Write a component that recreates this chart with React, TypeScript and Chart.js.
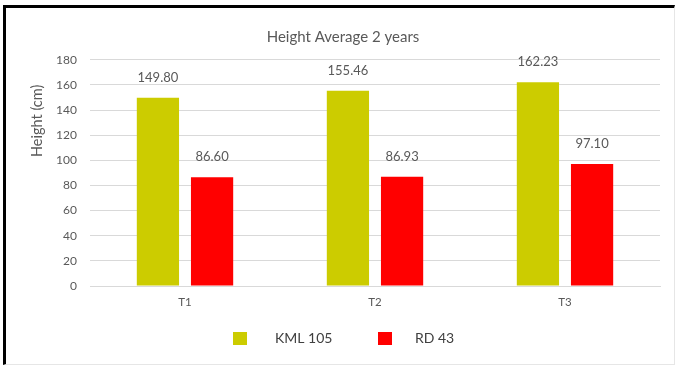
import React, { useEffect, useRef } from "react";
import { Chart, registerables } from "chart.js";

Chart.register(...registerables);

const categories = ["T1", "T2", "T3"];
const seriesNames = ["KML 105", "RD 43"];
const kml105 = [149.8, 155.46, 162.23];
const rd43 = [86.6, 86.93, 97.1];
const yTicks = [0, 20, 40, 60, 80, 100, 120, 140, 160, 180];
const colors = ["#CCCC00", "#FF0000"];
const chartTitle = "Height Average 2 years";
const yAxisTitle = "Height (cm)";
const textColor = "#595959";
const FONT = "Lato, 'Open Sans', sans-serif";

const valueLabels = {
  id: "valueLabels",
  afterDatasetsDraw(chart: any) {
    const ctx = chart.ctx;
    ctx.save();
    ctx.font = `13px ${FONT}`;
    ctx.fillStyle = textColor;
    ctx.textAlign = "center";
    ctx.textBaseline = "middle";
    chart.data.datasets.forEach((ds: any, i: number) => {
      const meta = chart.getDatasetMeta(i);
      meta.data.forEach((bar: any, j: number) => {
        ctx.fillText(Number(ds.data[j]).toFixed(2), bar.x, bar.y - 20);
      });
    });
    ctx.restore();
  },
};

const titles = {
  id: "titles",
  afterDraw(chart: any) {
    const ctx = chart.ctx;
    const a = chart.chartArea;
    ctx.save();
    ctx.fillStyle = textColor;
    ctx.textAlign = "center";
    ctx.textBaseline = "middle";
    ctx.font = `15px ${FONT}`;
    ctx.fillText(chartTitle, 343, a.top - 23);
    ctx.font = `14.5px ${FONT}`;
    ctx.translate(a.left - 53, a.top + a.height * 0.27);
    ctx.rotate(-Math.PI / 2);
    ctx.fillText(yAxisTitle, 0, 0);
    ctx.restore();
  },
};

const customLegend = {
  id: "customLegend",
  afterDraw(chart: any) {
    const ctx = chart.ctx;
    const a = chart.chartArea;
    const y = a.bottom + 52;
    const boxX = [233, 378];
    const textX = [275, 415];
    ctx.save();
    ctx.font = `14px ${FONT}`;
    ctx.textBaseline = "middle";
    ctx.textAlign = "left";
    chart.data.datasets.forEach((ds: any, i: number) => {
      ctx.fillStyle = ds.backgroundColor;
      ctx.fillRect(boxX[i], y - 6, 14, 13);
      ctx.fillStyle = "#404040";
      ctx.fillText(ds.label, textX[i], y);
    });
    ctx.restore();
  },
};

export default function App() {
  const ref = useRef<HTMLCanvasElement>(null);
  useEffect(() => {
    document.body.style.margin = "0";
    const chart = new Chart(ref.current!, {
      type: "bar",
      data: {
        labels: categories,
        datasets: [
          { label: seriesNames[0], data: kml105, backgroundColor: colors[0] },
          { label: seriesNames[1], data: rd43, backgroundColor: colors[1] },
        ],
      },
      options: {
        animation: false,
        responsive: false,
        layout: { padding: { left: 0, right: 16, top: 0, bottom: 0 } },
        datasets: { bar: { categoryPercentage: 0.57, barPercentage: 0.78 } },
        plugins: {
          legend: { display: false },
          tooltip: { enabled: false },
          title: {
            display: true,
            text: "",
            font: { family: FONT, size: 14, weight: "normal" },
            padding: { top: 28, bottom: 15 },
          },
        },
        scales: {
          x: {
            grid: { display: false, drawTicks: false },
            border: { display: true, color: "#d9d9d9" },
            ticks: { color: textColor, font: { family: FONT, size: 11.5 }, padding: 9 },
            afterFit: (s: any) => {
              s.height = 79;
            },
          },
          y: {
            min: 0,
            max: 180,
            afterBuildTicks: (s: any) => {
              s.ticks = yTicks.map((v) => ({ value: v }));
            },
            grid: { color: "#d9d9d9", drawTicks: false },
            border: { display: false },
            ticks: { color: textColor, font: { family: FONT, size: 12 }, padding: 13 },
            afterFit: (s: any) => {
              s.width = 90;
            },
          },
        },
      },
      plugins: [valueLabels, titles, customLegend],
    } as any);
    return () => chart.destroy();
  }, []);
  return (
    <div style={{ position: "relative", width: 676, height: 365, background: "#fff" }}>
      <div
        style={{
          position: "absolute",
          left: 3,
          top: 5,
          width: 668,
          height: 356,
          borderLeft: "3px solid #000",
          borderTop: "3px solid #000",
          borderRight: "1px solid #e6e6e6",
          borderBottom: "1px solid #e6e6e6",
        }}
      />
      <canvas ref={ref} width={676} height={365} style={{ position: "absolute", left: 0, top: 0 }} />
    </div>
  );
}
